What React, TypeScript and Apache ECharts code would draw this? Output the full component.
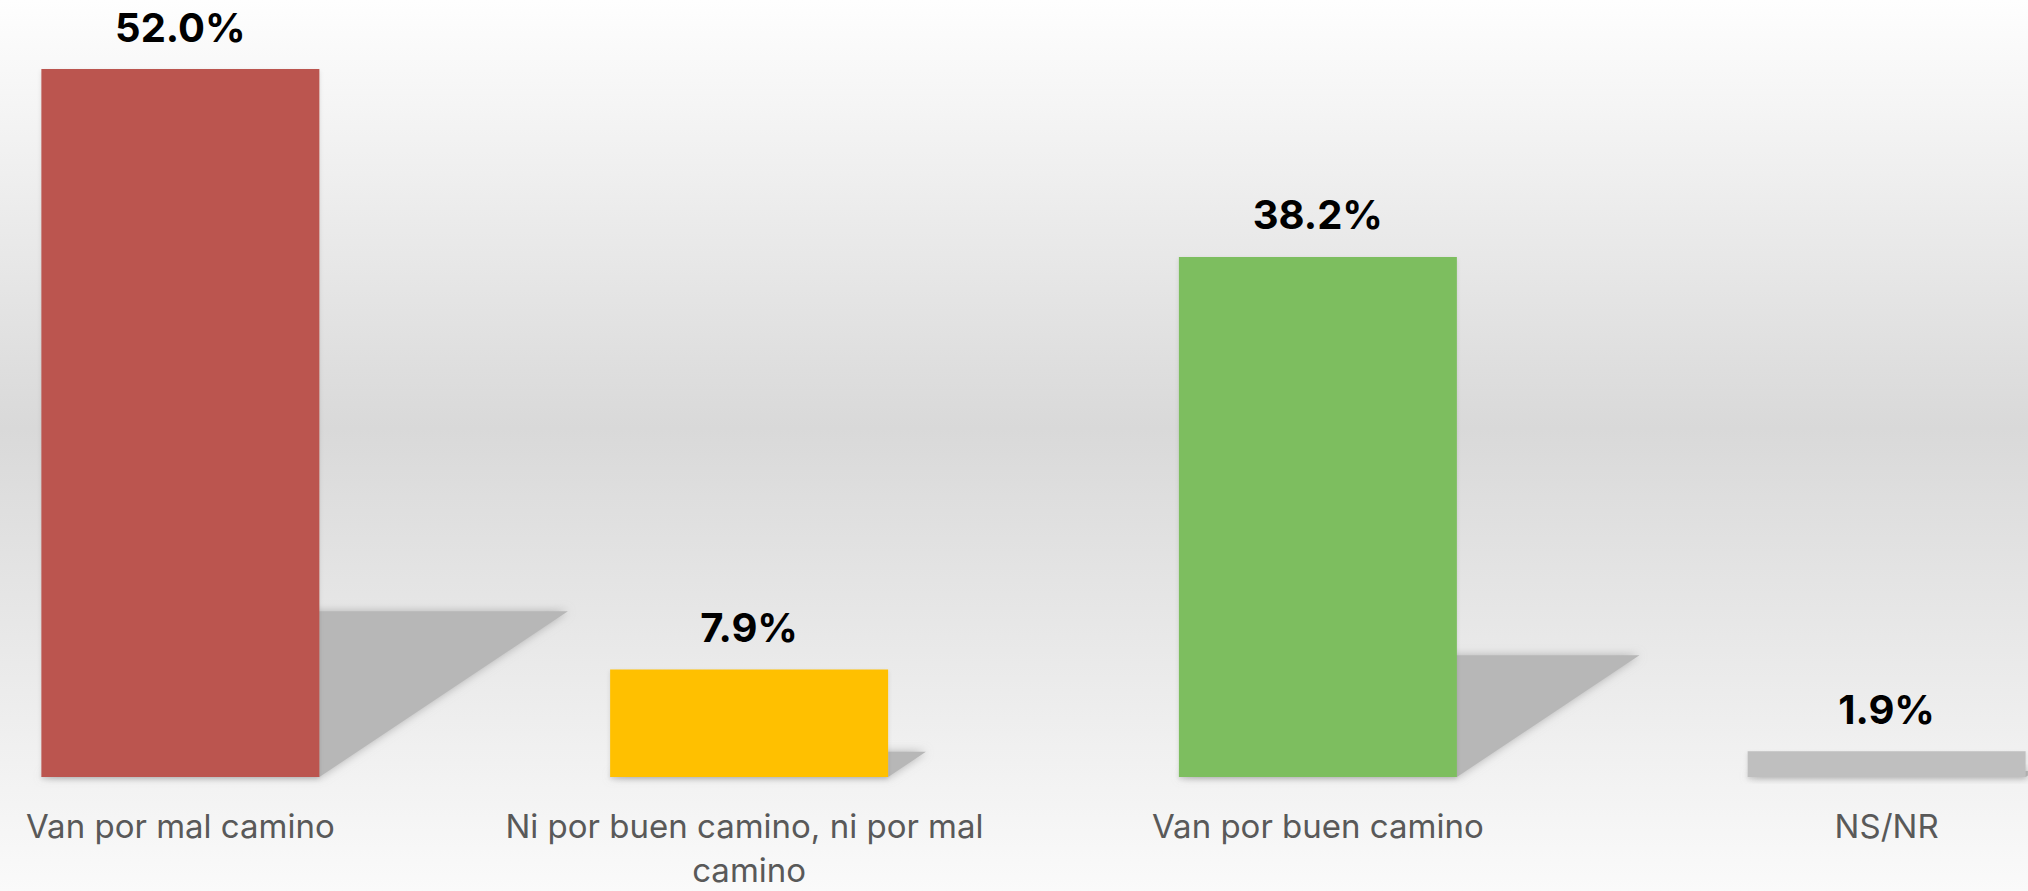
import React, { useEffect, useRef } from "react";
import * as echarts from "echarts";

const categories = [
  "Van por mal camino",
  "Ni por buen camino, ni por mal camino",
  "Van por buen camino",
  "NS/NR",
];
const values = [52.0, 7.9, 38.2, 1.9];
const barColors = ["#BB554F", "#FFC000", "#7DBE5E", "#BFBFBF"];

const BAR_W = 278;
const SHADOW_RATIO = 0.234;
const SHADOW_SLANT = 1.5;

export default function App() {
  const ref = useRef<HTMLDivElement>(null);
  useEffect(() => {
    document.body.style.margin = "0";
    const chart = echarts.init(ref.current!, undefined, { renderer: "svg" });
    chart.setOption({
      animation: false,
      backgroundColor: {
        type: "linear",
        x: 0,
        y: 0,
        x2: 0,
        y2: 1,
        colorStops: [
          { offset: 0, color: "#fefefe" },
          { offset: 0.48, color: "#d9d9d9" },
          { offset: 0.87, color: "#f2f2f2" },
          { offset: 1, color: "#fafafa" },
        ],
      },
      grid: {
        left: -104,
        right: -143,
        top: 69,
        bottom: 114,
        outerBoundsMode: "none",
        containLabel: false,
      },
      xAxis: {
        type: "category",
        data: categories,
        axisLine: { show: false },
        axisTick: { show: false },
        axisLabel: {
          interval: 0,
          margin: 27,
          fontSize: 33,
          lineHeight: 44,
          color: "#595959",
          fontFamily: "Inter, 'Noto Sans', sans-serif",
          width: 520,
          overflow: "break",
        },
      },
      yAxis: { type: "value", min: 0, max: 52, show: false, splitLine: { show: false } },
      series: [
        {
          type: "custom",
          z: 1,
          silent: true,
          data: values.map((v, i) => [i, v]),
          renderItem: (params: any, api: any) => {
            const idx = api.value(0);
            const v = api.value(1);
            const b = api.coord([idx, 0]);
            const t = api.coord([idx, v * SHADOW_RATIO]);
            const h = b[1] - t[1];
            const dx = h * SHADOW_SLANT;
            const l = b[0] - BAR_W / 2;
            const r = b[0] + BAR_W / 2;
            return {
              type: "polygon",
              shape: {
                points: [
                  [l, b[1]],
                  [r, b[1]],
                  [r + dx, t[1]],
                  [l + dx, t[1]],
                ],
              },
              style: {
                fill: "#b7b7b7",
                shadowBlur: 10,
                shadowColor: "rgba(170,170,170,0.9)",
              },
            };
          },
        },
        {
          type: "bar",
          z: 2,
          barWidth: BAR_W,
          data: values.map((v, i) => ({ value: v, itemStyle: { color: barColors[i] } })),
          itemStyle: { shadowBlur: 4, shadowColor: "rgba(0,0,0,0.12)", shadowOffsetY: 2 },
          label: {
            show: true,
            position: "top",
            distance: 22,
            formatter: (p: any) => p.value.toFixed(1) + "%",
            fontSize: 40,
            fontWeight: "bold",
            color: "#000",
            fontFamily: "Inter, 'Noto Sans', sans-serif",
          },
        },
      ],
    });
    return () => chart.dispose();
  }, []);
  return <div ref={ref} style={{ width: 2028, height: 891 }} />;
}
